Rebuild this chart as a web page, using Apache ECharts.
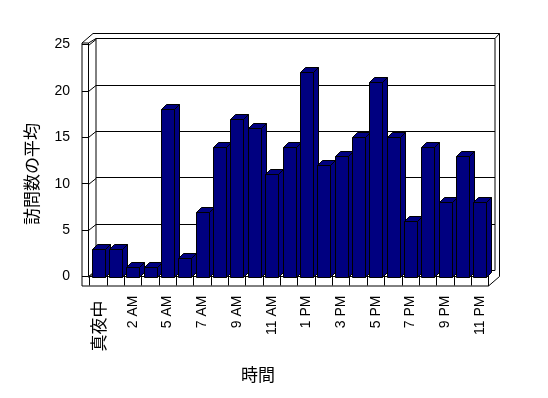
<!DOCTYPE html>
<html><head><meta charset="utf-8">
<script src="https://cdn.jsdelivr.net/npm/echarts@6/dist/echarts.min.js"></script>
<style>html,body{margin:0;padding:0;background:#fff}#c{width:548px;height:398px}</style>
</head><body><div id="c"></div>
<script>
const categories = ['真夜中','1 AM','2 AM','3 AM','5 AM','6 AM','7 AM','8 AM','9 AM','10 AM','11 AM','12 PM','1 PM','2 PM','3 PM','4 PM','5 PM','6 PM','7 PM','8 PM','9 PM','10 PM','11 PM'];
const visits = [3,3,1,1,18,2,7,14,17,16,11,14,22,12,13,15,21,15,6,14,8,13,8];
const yTicks = [0,5,10,15,20,25];
const yTitle = '訪問数の平均';
const xTitle = '時間';

const L = 89.5, R = 488.5, T = 44.5, B = 276.5;
const DX = 6.5, DY = -6;
const NAVY = '#000080';
const FONT = "'Liberation Sans', Arial, sans-serif";
const JFONT = "'Noto Sans CJK JP', sans-serif";

const chart = echarts.init(document.getElementById('c'), null, {renderer: 'canvas'});

function renderBar(params, api) {
  const i = api.value(0), v = api.value(1);
  const p0 = api.coord([i, 0]);
  const p1 = api.coord([i, v]);
  const bw = 13, d = 5;
  const x0 = Math.round(p0[0] - bw / 2) + 0.5;
  const x1 = x0 + bw;
  const y0 = Math.round(p0[1]) + 0.5;
  const y1 = Math.round(p1[1]) + 0.5;
  const st = {fill: NAVY, stroke: '#000', lineWidth: 1};
  return {
    type: 'group',
    children: [
      {type: 'polygon', shape: {points: [[x1, y1], [x1 + d, y1 - d], [x1 + d, y0 - d], [x1, y0]]}, style: st},
      {type: 'polygon', shape: {points: [[x0, y1], [x1, y1], [x1 + d, y1 - d], [x0 + d, y1 - d]]}, style: st},
      {type: 'rect', shape: {x: x0, y: y1, width: bw, height: y0 - y1}, style: st}
    ]
  };
}

chart.setOption({
  animation: false,
  backgroundColor: '#fff',
  grid: [
    {left: L, top: T, width: R - L, height: B - T},
    {left: L + DX, top: T + DY, width: R - L, height: B - T}
  ],
  xAxis: [
    {
      type: 'category', gridIndex: 0, data: categories, boundaryGap: true,
      axisLine: {show: true, lineStyle: {color: '#000', width: 1}},
      axisTick: {show: true, interval: 0, length: 9, lineStyle: {color: '#000'}},
      axisLabel: {
        interval: 1, rotate: 90, margin: 19, color: '#000', fontSize: 14, fontFamily: FONT,
        formatter: v => /[^\x00-\x7f]/.test(v) ? '{j|' + v + '}' : v,
        rich: {j: {fontSize: 17, fontFamily: JFONT, color: '#000', padding: [0, 5, 0, 0]}}
      },
      splitLine: {show: false}
    },
    {type: 'category', gridIndex: 1, data: categories, show: false}
  ],
  yAxis: [
    {
      type: 'value', gridIndex: 0, min: 0, max: 25, interval: 5, offset: 7.5,
      axisLine: {show: false},
      axisTick: {show: true, inside: true, length: 6.5, lineStyle: {color: '#000'}},
      axisLabel: {color: '#000', fontSize: 14, fontFamily: FONT, margin: 12},
      splitLine: {show: false}
    },
    {
      type: 'value', gridIndex: 1, min: 0, max: 25, interval: 5,
      axisLine: {show: false}, axisTick: {show: false}, axisLabel: {show: false},
      splitLine: {show: true, lineStyle: {color: '#000', width: 1}}
    }
  ],
  series: [{
    type: 'custom', xAxisIndex: 0, yAxisIndex: 0, z: 5,
    renderItem: renderBar,
    encode: {x: 0, y: 1},
    data: visits.map((v, i) => [i, v])
  }]
});

// frame decoration derived from axis scale
const line = (pts, z) => ({type: 'polyline', silent: true, z: z || 1, shape: {points: pts}, style: {stroke: '#000', lineWidth: 1, fill: null}});
const OX = L - 7.5;           // outer left edge
const BX = L + DX, BT = T + DY, BB = B + DY, BR = R + DX;
const FB = B + 9.5;           // floor bottom
const OT = 33.5, OR = 499.5;
const g = [];
g.push(line([[OX, FB], [OX, T - 1.5], [OX + 11, OT], [OR, OT], [OR, B], [R, FB], [OX, FB]]));
g.push(line([[OX, T - 1.5], [L - 1, T - 1.5], [BX, BT]]));
g.push(line([[L - 1, T - 1.5], [L - 1, B]]));
g.push(line([[BX, BT], [BX, BB]]));
g.push(line([[BR, BT], [BR, BB]]));
g.push(line([[BR, BT], [OR, OT]]));
g.push(line([[L - 1, B], [BX, BB]]));
g.push(line([[R, B], [R, FB]]));
yTicks.forEach(v => {
  const y = Math.round(chart.convertToPixel({yAxisIndex: 0}, v)) + 0.5;
  g.push(line([[L - 1, y], [BX, y + DY]]));
});
g.push({type: 'text', silent: true, x: 32, y: 174, rotation: Math.PI / 2,
  style: {text: yTitle, fill: '#000', font: '17px ' + JFONT, align: 'center', verticalAlign: 'middle'}});
g.push({type: 'text', silent: true, x: 258, y: 375,
  style: {text: xTitle, fill: '#000', font: '17px ' + JFONT, align: 'center', verticalAlign: 'middle'}});
chart.setOption({graphic: g});
</script>
</body></html>
